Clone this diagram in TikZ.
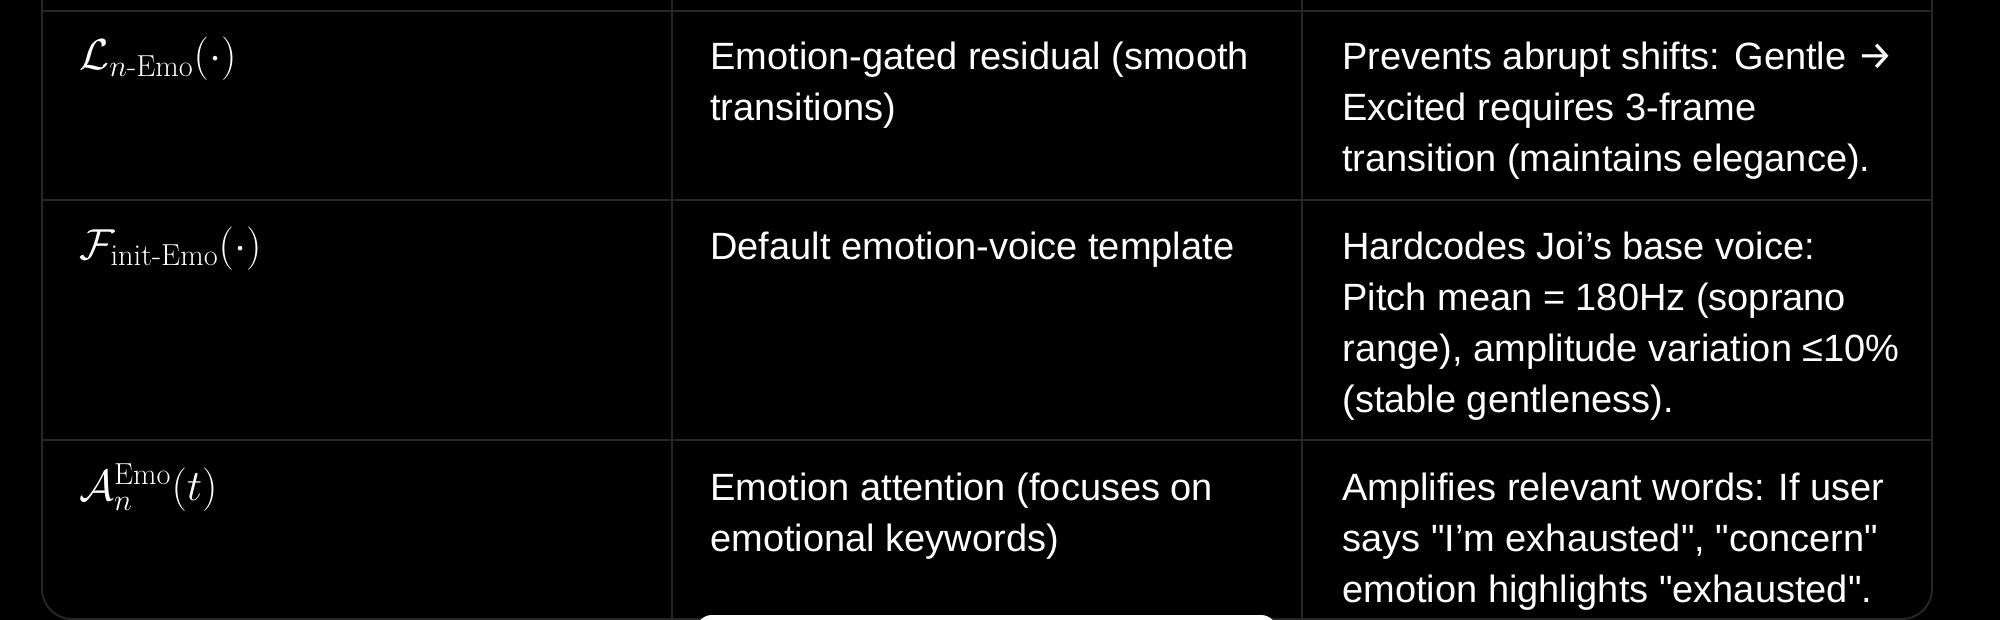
\RequirePackage{fix-cm}
\documentclass[tikz,border=0pt]{standalone}
\usepackage{amsmath}
\usepackage{fontspec}
\newfontfamily\uifont{Liberation Sans}
\newfontfamily\arrowfont{Fira Sans}
\newcommand{\rarr}{{\arrowfont\fontsize{20}{20}\selectfont →}}
\definecolor{gridc}{RGB}{38,38,38}
\begin{document}
\begin{tikzpicture}[x=0.5pt,y=-0.5pt,
  gridline/.style={draw=gridc,line width=1pt},
  cell/.style={anchor=base west,inner sep=0pt,align=left,text=white,
    font=\uifont\fontsize{19}{25.5}\selectfont},
  mathcell/.style={anchor=base west,inner sep=0pt,text=white,
    font=\fontsize{21.7}{25.5}\selectfont}]
\fill[black] (0,0) rectangle (2000,620);
\useasboundingbox (0,0) rectangle (2000,620);
\clip (0,0) rectangle (2000,620);
% table frame
\draw[gridline,rounded corners=15] (42,-30) -- (42,619) -- (1932,619) -- (1932,-30);
\draw[gridline] (42,11) -- (1932,11);
\draw[gridline] (42,200) -- (1932,200);
\draw[gridline] (42,440) -- (1932,440);
\draw[gridline] (672,-30) -- (672,619);
\draw[gridline] (1302,-30) -- (1302,619);
% row 1 (base anchor = last line's baseline; line pitch 51)
\node[mathcell] (m1) at (79,70) {$\mathcal{L}_{n\text{-Emo}}(\cdot)$};
\node[cell] (d1) at (710,121) {Emotion-gated residual (smooth\\transitions)};
\node[cell] (e1) at (1342,172) {Prevents abrupt shifts: Gentle \rarr\\Excited requires 3-frame\\transition (maintains elegance).};
% row 2
\node[mathcell] (m2) at (79,259) {$\mathcal{F}_{\text{init-Emo}}(\cdot)$};
\node[cell] (d2) at (710,259) {Default emotion-voice template};
\node[cell] (e2) at (1342,412) {Hardcodes Joi’s base voice:\\Pitch mean = 180Hz (soprano\\range), amplitude variation ≤10\%\\(stable gentleness).};
% row 3
\node[mathcell] (m3) at (79,500) {$\mathcal{A}_n^{\text{Emo}}(t)$};
\node[cell] (d3) at (710,551) {Emotion attention (focuses on\\emotional keywords)};
\node[cell] (e3) at (1342,602) {Amplifies relevant words: If user\\says "I’m exhausted", "concern"\\emotion highlights "exhausted".};
% white bar at bottom
\fill[white,rounded corners=8] (696,615) rectangle (1277,660);
\end{tikzpicture}
\end{document}
